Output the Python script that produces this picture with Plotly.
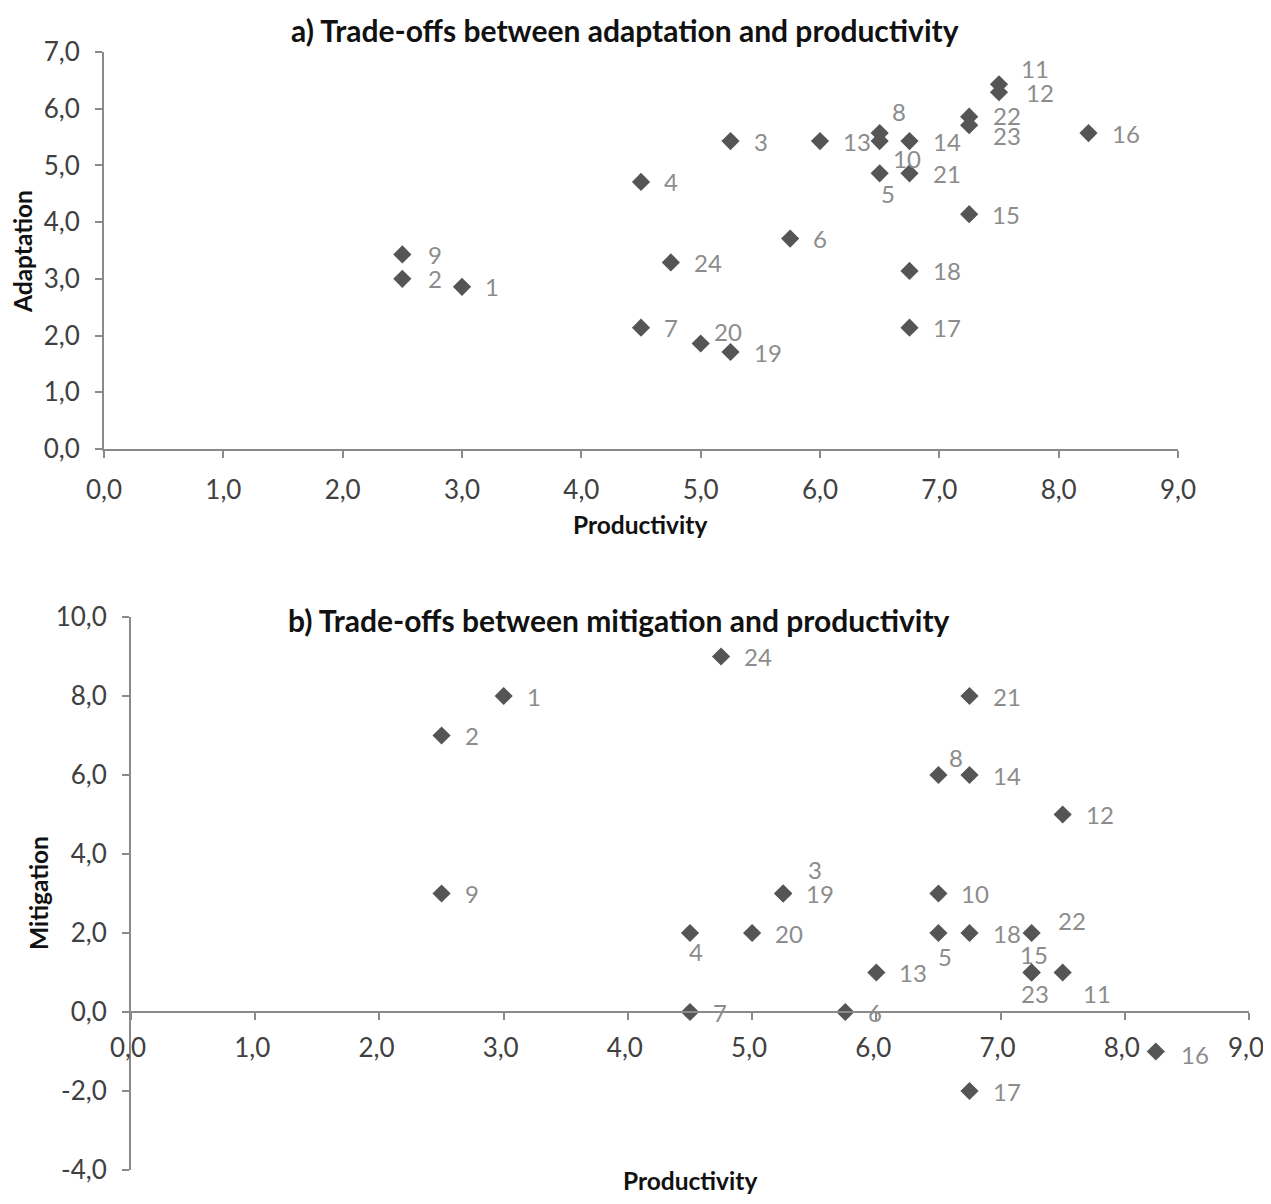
import plotly.graph_objects as go

ids = [str(i) for i in range(1, 25)]
productivity = [3.0, 2.5, 5.25, 4.5, 6.5, 5.75, 4.5, 6.5, 2.5, 6.5, 7.5, 7.5,
                6.0, 6.75, 7.25, 8.25, 6.75, 6.75, 5.25, 5.0, 6.75, 7.25, 7.25, 4.75]
adaptation = [2.86, 3.0, 5.43, 4.71, 4.86, 3.71, 2.14, 5.57, 3.43, 5.43, 6.43, 6.29,
              5.43, 5.43, 4.14, 5.57, 2.14, 3.14, 1.71, 1.86, 4.86, 5.86, 5.71, 3.29]
mitigation = [8, 7, 3, 2, 2, 0, 0, 6, 3, 3, 1, 5,
              1, 6, 1, -1, -2, 2, 3, 2, 8, 2, 1, 9]

x_ticks = [0, 1, 2, 3, 4, 5, 6, 7, 8, 9]
y_ticks_a = [0, 1, 2, 3, 4, 5, 6, 7]
y_ticks_b = [-4, -2, 0, 2, 4, 6, 8, 10]


def fmt(v):
    return f"{v:.1f}".replace(".", ",")


PAGE_W, PAGE_H = 1271, 1204
OFF = 8  # default page body margin
W, H = PAGE_W - OFF, PAGE_H - 2 * OFF
FONT = "Lato"
MARK = "#555555"
LBL = "#8c8c8c"
AX = "#8a8a8a"
TXT = "#404040"

# label placement (xanchor, xshift, yshift) ; default right of marker
DEF = ("left", 21, 0)
off_a = {
    "8": ("left", 10, 22), "10": ("left", 11, -17), "5": ("center", 8, -20),
    "11": ("left", 20, 16), "12": ("left", 25, 0), "23": ("left", 22, -10),
    "22": ("left", 22, 1), "20": ("left", 11, 12), "9": ("left", 24, 0),
    "2": ("left", 24, 0),
}
off_b = {
    "8": ("left", 9, 18), "3": ("left", 23, 24), "4": ("center", 6, -18),
    "5": ("center", 7, -23), "22": ("left", 24, 13), "15": ("center", 2, 18),
    "23": ("center", 3, -21), "11": ("left", 18, -21), "16": ("left", 23, -3),
}

fig = go.Figure()
fig.add_trace(go.Scatter(x=productivity, y=adaptation, mode="markers",
                         marker=dict(symbol="diamond", size=14, color=MARK),
                         xaxis="x", yaxis="y", showlegend=False, hoverinfo="skip"))
fig.add_trace(go.Scatter(x=productivity, y=mitigation, mode="markers",
                         marker=dict(symbol="diamond", size=14, color=MARK),
                         xaxis="x2", yaxis="y2", showlegend=False, hoverinfo="skip"))

ann = []
for i, t in enumerate(ids):
    xa, xs, ys = off_a.get(t, DEF)
    ann.append(dict(x=productivity[i], y=adaptation[i], xref="x", yref="y", text=t,
                    showarrow=False, xanchor=xa, yanchor="middle", xshift=xs, yshift=ys,
                    font=dict(family=FONT, size=24, color=LBL)))
    xa, xs, ys = off_b.get(t, DEF)
    ann.append(dict(x=productivity[i], y=mitigation[i], xref="x2", yref="y2", text=t,
                    showarrow=False, xanchor=xa, yanchor="middle", xshift=xs, yshift=ys,
                    font=dict(family=FONT, size=24, color=LBL)))


def px(x):
    return (x - OFF) / W


def py(y):
    return 1 - (y - OFF) / H


titlefont = dict(family=FONT, size=30, color="#111111")
axtfont = dict(family=FONT, size=24.5, color="#111111")
for xx, yy, txt, f, ang in [
    (625, 30, "<b>a) Trade-offs between adaptation and productivity</b>", titlefont, 0),
    (619, 620, "<b>b) Trade-offs between mitigation and productivity</b>", titlefont, 0),
    (640, 525, "<b>Productivity</b>", axtfont, 0),
    (690, 1180, "<b>Productivity</b>", axtfont, 0),
    (22, 252, "<b>Adaptation</b>", axtfont, -90),
    (38, 893, "<b>Mitigation</b>", axtfont, -90),
]:
    ann.append(dict(x=px(xx), y=py(yy), xref="paper", yref="paper", showarrow=False,
                    xanchor="center", yanchor="middle", textangle=ang, text=txt, font=f))

tickfont = dict(family=FONT, size=26, color=TXT)
common = dict(showgrid=False, zeroline=False, showline=True, linecolor=AX, linewidth=2,
              ticks="outside", ticklen=7, tickcolor=AX, tickwidth=1.5,
              tickfont=tickfont, automargin=False, ticklabeloverflow="allow")

fig.update_layout(
    width=W, height=H, margin=dict(l=0, r=0, t=0, b=0, autoexpand=False),
    paper_bgcolor="white", plot_bgcolor="white",
    xaxis=dict(domain=[px(104), px(1178)], range=[0, 9], tickvals=x_ticks,
               ticktext=[fmt(v) for v in x_ticks],
               anchor="y", ticklabelstandoff=10, **common),
    yaxis=dict(domain=[py(449), py(52)], range=[0, 7], tickvals=y_ticks_a,
               ticktext=[fmt(v) for v in y_ticks_a],
               anchor="x", ticklabelstandoff=10, **common),
    xaxis2=dict(domain=[px(131), px(1249)], range=[0, 9], tickvals=x_ticks,
                ticktext=[fmt(v) for v in x_ticks], ticklabelshift=-3,
                anchor="free", position=py(1012), ticklabelstandoff=6, **common),
    yaxis2=dict(domain=[py(1170), py(617)], range=[-4, 10], tickvals=y_ticks_b,
                ticktext=[fmt(v) for v in y_ticks_b],
                anchor="x2", ticklabelstandoff=10, **common),
    annotations=ann,
)

fig.write_html("out.html")
